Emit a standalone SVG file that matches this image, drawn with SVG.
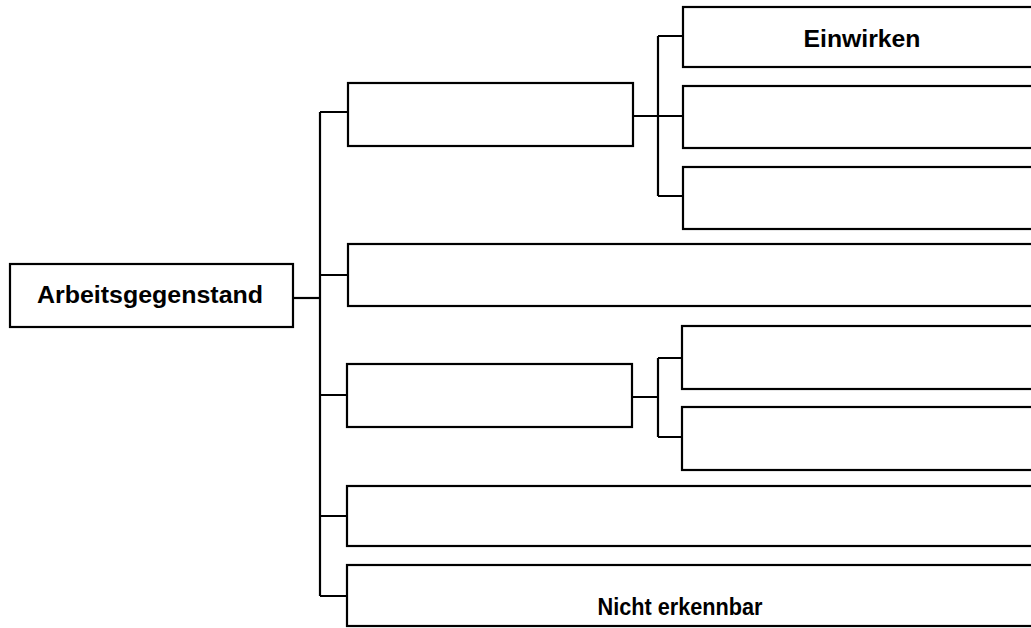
<svg xmlns="http://www.w3.org/2000/svg" width="1031" height="628" viewBox="0 0 1031 628">
<style>
.box{fill:#fff;stroke:#000;stroke-width:2.2}
.ln{fill:none;stroke:#000;stroke-width:2.2}
.t{font-family:"Liberation Sans",Arial,sans-serif;font-weight:bold;font-size:23px;fill:#000;text-anchor:middle}
</style>
<rect width="1031" height="628" fill="#fff"/>
<g id="connectors">
<path class="ln" d="M293,298 H320"/>
<path class="ln" d="M320,112 V596"/>
<path class="ln" d="M320,112 H348 M320,275 H348 M320,395 H348 M320,516 H348 M320,596 H348"/>
<path class="ln" d="M633,116 H683 M658,36 V196 M658,36 H683 M658,196 H683"/>
<path class="ln" d="M632,397 H658 M658,358 V437 M658,358 H682 M658,437 H682"/>
</g>
<g id="n-root"><rect class="box" x="10" y="264" width="283" height="63"/><text class="t" x="150" y="303" textLength="226" lengthAdjust="spacingAndGlyphs">Arbeitsgegenstand</text></g>
<g id="n-a"><rect class="box" x="348" y="83" width="285" height="63"/></g>
<g id="n-a1"><rect class="box" x="683" y="7" width="360" height="60"/><text class="t" x="862" y="47" textLength="117" lengthAdjust="spacingAndGlyphs">Einwirken</text></g>
<g id="n-a2"><rect class="box" x="683" y="86" width="360" height="62"/></g>
<g id="n-a3"><rect class="box" x="683" y="167" width="360" height="62"/></g>
<g id="n-b"><rect class="box" x="348" y="244" width="695" height="62"/></g>
<g id="n-c"><rect class="box" x="347" y="364" width="285" height="63"/></g>
<g id="n-c1"><rect class="box" x="682" y="326" width="360" height="63"/></g>
<g id="n-c2"><rect class="box" x="682" y="407" width="360" height="63"/></g>
<g id="n-d"><rect class="box" x="347" y="486" width="696" height="60"/></g>
<g id="n-e"><rect class="box" x="347" y="565" width="696" height="61"/><text class="t" x="680" y="615" textLength="165" lengthAdjust="spacingAndGlyphs">Nicht erkennbar</text></g>
</svg>
